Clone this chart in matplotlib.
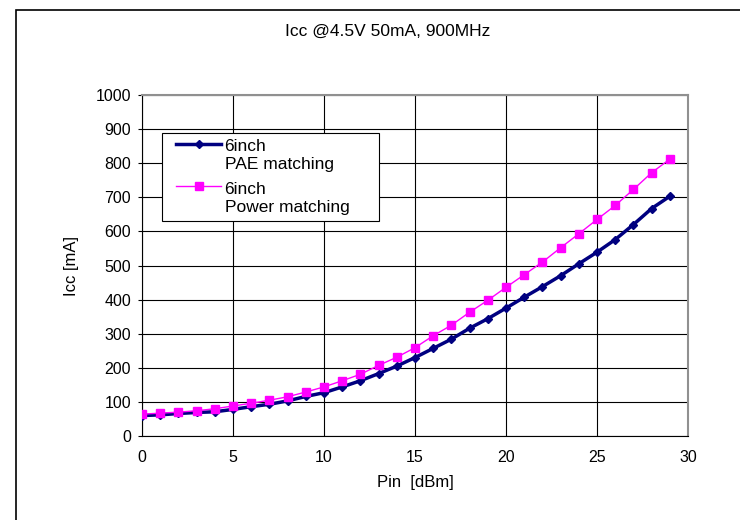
import matplotlib as mpl
from matplotlib import pyplot as plt
from matplotlib.patches import Rectangle
from matplotlib.legend_handler import HandlerLine2D
import numpy as np

mpl.rcParams["font.family"] = ["Liberation Sans", "DejaVu Sans"]
mpl.rcParams["font.size"] = 11.5

# Pin [dBm]
pin = list(range(0, 30))
# Icc [mA], 6inch PAE matching
icc_pae = [60, 62, 66, 69, 71, 78, 86, 93, 103, 116,
           127, 144, 162, 183, 205, 230, 257, 284, 316, 344,
           375, 407, 438, 470, 505, 539, 576, 620, 667, 703]
# Icc [mA], 6inch Power matching
icc_pow = [64, 67, 70, 74, 80, 88, 96, 105, 115, 129,
           144, 162, 181, 207, 231, 259, 294, 325, 363, 398,
           436, 473, 510, 552, 593, 635, 676, 723, 772, 812]


class TopLine(HandlerLine2D):
    # put the legend handle next to the first line of a two-line label
    def create_artists(self, legend, orig_handle, xdescent, ydescent,
                       width, height, fontsize, trans):
        arts = super().create_artists(legend, orig_handle, xdescent, ydescent,
                                      width, height, fontsize, trans)
        for a in arts:
            a.set_ydata(np.asarray(a.get_ydata()) + 0.68*fontsize)
        return arts


fig = plt.figure(figsize=(7.4, 5.2), dpi=100)
# outer chart frame (left and top edges visible)
fig.patches.append(Rectangle((16/740, -0.1), 1.2, 1 - 10/520 + 0.1,
                             transform=fig.transFigure, fill=False,
                             edgecolor="black", lw=1.2))

ax = fig.add_axes([142/740, 1 - 436/520, 546/740, 341/520])
ax.plot(pin, icc_pae, color="#000080", lw=2.5, marker="D", markersize=4,
        label="6inch\nPAE matching", zorder=3)
ax.plot(pin, icc_pow, color="#FF00FF", lw=1, marker="s", markersize=5.5,
        label="6inch\nPower matching", zorder=4)

ax.set_xlim(0, 30)
ax.set_ylim(0, 1000)
ax.set_xticks(range(0, 31, 5))
ax.set_yticks(range(0, 1001, 100))
ax.grid(color="black", lw=0.8)
ax.set_axisbelow(True)
for s in ["top", "right"]:
    ax.spines[s].set_color("#909090")
    ax.spines[s].set_linewidth(1.5)
ax.tick_params(axis="y", length=3, pad=5)
ax.tick_params(axis="x", length=0, pad=10)

ax.set_xlabel("Pin  [dBm]", fontsize=12, labelpad=7)
ax.set_ylabel("Icc [mA]", fontsize=12, labelpad=12)
fig.text(388/740, 1 - 31/520, "Icc @4.5V 50mA, 900MHz", fontsize=12.5,
         ha="center", va="center")

# legend box drawn separately (wider side padding than top/bottom)
ax.add_patch(Rectangle(((162 - 142)/546, (436 - 221)/341), 217/546, 88/341,
                       transform=ax.transAxes, facecolor="white",
                       edgecolor="black", lw=0.8, zorder=5))
leg = ax.legend(loc="upper left", bbox_to_anchor=((176 - 142)/546, (436 - 139)/341),
                frameon=False, handlelength=2.6, labelspacing=0.55,
                borderpad=0, handletextpad=0.2, borderaxespad=0, fontsize=12.5,
                handler_map={mpl.lines.Line2D: TopLine()})
leg.set_zorder(6)
for t in leg.get_texts():
    t.set_linespacing(1.25)

fig.savefig("out.png", dpi=100)
